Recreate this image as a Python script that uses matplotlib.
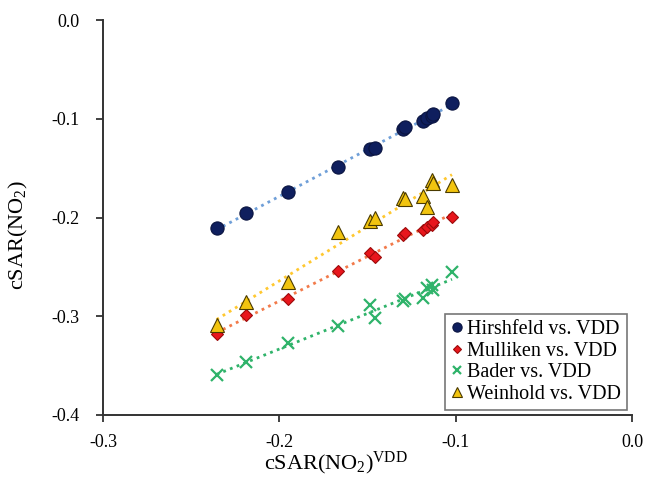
import numpy as np
import matplotlib
matplotlib.use("Agg")
import matplotlib.pyplot as plt

plt.rcParams['font.family'] = ['Liberation Serif', 'DejaVu Serif']
plt.rcParams['mathtext.fontset'] = 'custom'
plt.rcParams['mathtext.rm'] = 'Liberation Serif'
plt.rcParams['mathtext.it'] = 'Liberation Serif:italic'

# cSAR(NO2)^VDD values (x axis), shared by all four series
vdd = [-0.2356, -0.2189, -0.1949, -0.1669, -0.1486, -0.1460, -0.1300,
       -0.1285, -0.1187, -0.1160, -0.1136, -0.1129, -0.1021]

hirshfeld = [-0.2109, -0.1958, -0.1745, -0.1492, -0.1306, -0.1299, -0.1107,
             -0.1087, -0.1023, -0.0992, -0.0972, -0.0947, -0.0844]
mulliken = [-0.3180, -0.2990, -0.2829, -0.2542, -0.2357, -0.2397, -0.2177,
            -0.2160, -0.2127, -0.2099, -0.2076, -0.2046, -0.1992]
bader = [-0.3595, -0.3460, -0.3274, -0.3099, -0.2886, -0.3021, -0.2846,
         -0.2825, -0.2818, -0.2711, -0.2684, -0.2734, -0.2549]
weinhold = [-0.3089, -0.2853, -0.2650, -0.2144, -0.2032, -0.2008, -0.1800,
            -0.1816, -0.1782, -0.1891, -0.1620, -0.1654, -0.1671]

series = [
    ('Hirshfeld vs. VDD', hirshfeld, 'o', '#0f1f5e', '#0a1440', '#6f9fd8', 9.5),
    ('Mulliken vs. VDD', mulliken, 'D', '#e8161c', '#9c0a0a', '#f27a4a', 6.5),
    ('Bader vs. VDD', bader, 'x', '#2fb36a', '#2fb36a', '#2fb36a', 8),
    ('Weinhold vs. VDD', weinhold, '^', '#f2c40f', '#4a3a00', '#ffc830', 9.5),
]

fig = plt.figure(figsize=(6.48, 4.88), dpi=100)
ax = fig.add_axes([0.159, 0.1496, 0.8163, 0.8094])

x = np.array(vdd)
for label, vals, mk, fc, ec, lc, ms in series:
    y = np.array(vals)
    # linear trendline (dotted), as in the original spreadsheet chart
    k, b = np.polyfit(x, y, 1)
    xx = np.array([x.min(), x.max()])
    ax.plot(xx, k * xx + b, ls=(0, (1, 1.6)), color=lc, lw=2.0, zorder=2)
    ax.plot(x, y, ls='none', marker=mk, markersize=ms, markerfacecolor=fc,
            markeredgecolor=ec, markeredgewidth=1.6 if mk == 'x' else 0.8,
            label=label, zorder=3)

ax.set_xlim(-0.3, 0.0)
ax.set_ylim(-0.4, 0.0)
ax.set_xticks([-0.3, -0.2, -0.1, 0.0])
ax.set_yticks([-0.4, -0.3, -0.2, -0.1, 0.0])
ax.set_xticklabels(['-0.3', '-0.2', '-0.1', '0.0'])
ax.set_yticklabels(['-0.4', '-0.3', '-0.2', '-0.1', '0.0'])

for s in ['top', 'right']:
    ax.spines[s].set_visible(False)
for s in ['left', 'bottom']:
    ax.spines[s].set_linewidth(1.4)
    ax.spines[s].set_color('#333333')
ax.tick_params(axis='both', direction='out', length=5, width=1.3,
               color='#333333', labelsize=13)
ax.tick_params(axis='y', pad=12)
ax.tick_params(axis='x', pad=9)

ax.set_xlabel('cSAR(NO$_2$)$^{\\mathrm{VDD}}$', fontsize=16)
ax.set_ylabel('cSAR(NO$_2$)', fontsize=16)
ax.xaxis.set_label_coords(0.44, -0.088)
ax.yaxis.set_label_coords(-0.138, 0.456)

leg = ax.legend(loc='lower right', bbox_to_anchor=(1.0, 0.0), fontsize=14.5,
                frameon=True, fancybox=False, edgecolor='#555555',
                handlelength=0.6, handletextpad=0.2, borderpad=0.3,
                labelspacing=0.12, markerscale=0.7, borderaxespad=0.25)
leg.get_frame().set_linewidth(1.2)

plt.savefig('out.png', dpi=100)
